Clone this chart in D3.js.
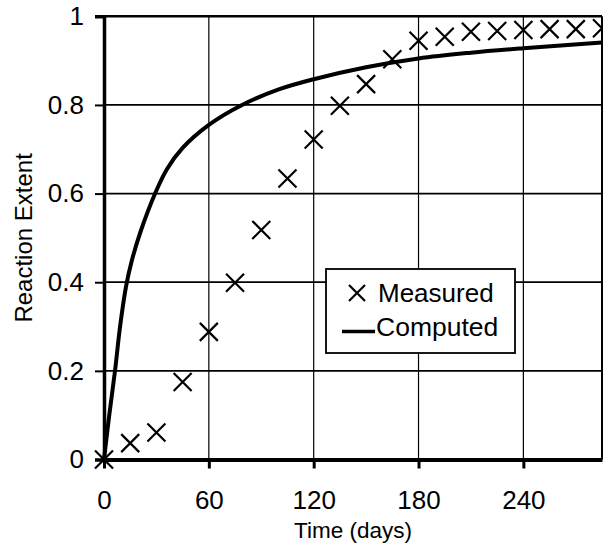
<!DOCTYPE html>
<html>
<head>
<meta charset="utf-8">
<script src="https://cdn.jsdelivr.net/npm/d3@7"></script>
<style>
  body { margin: 0; background: #fff; }
  svg { display: block; font-family: "Liberation Sans", Arial, sans-serif; }
</style>
</head>
<body>
<div id="chart"></div>
<script>
// Measured points (days, extent)
const measuredDays = [0, 15, 30, 45, 60, 75, 90, 105, 120, 135, 150, 165, 180, 195, 210, 225, 240, 255, 270, 285];
const measuredExtent = [0, 0.037, 0.061, 0.175, 0.288, 0.399, 0.518, 0.634, 0.722, 0.798, 0.847, 0.903, 0.945, 0.954, 0.965, 0.967, 0.969, 0.971, 0.971, 0.973];

// Computed curve
const computedDays = [0, 3, 6.3, 9.2, 12.6, 16, 21, 29, 36, 45, 60, 79, 100, 120, 150, 180, 210, 240, 285];
const computedExtent = [0, 0.1, 0.2, 0.3, 0.39, 0.45, 0.515, 0.598, 0.655, 0.703, 0.755, 0.8, 0.835, 0.858, 0.885, 0.905, 0.918, 0.928, 0.941];

const xTicks = [0, 60, 120, 180, 240];
const yTicks = [0, 0.2, 0.4, 0.6, 0.8, 1];

const width = 605, height = 550;
const margin = { top: 16.3, right: 3, bottom: 90.5, left: 104 };

const svg = d3.select("#chart")
    .append("svg")
    .attr("width", width)
    .attr("height", height);

const x = d3.scaleLinear()
    .domain([0, 285])
    .range([margin.left, width - margin.right]);

const y = d3.scaleLinear()
    .domain([0, 1])
    .range([height - margin.bottom, margin.top]);

// Gridlines
svg.append("g")
    .selectAll("line")
    .data(yTicks.filter(d => d > 0))
    .join("line")
    .attr("x1", x(0)).attr("x2", x(285))
    .attr("y1", d => y(d)).attr("y2", d => y(d))
    .attr("stroke", "#000").attr("stroke-width", d => d === 1 ? 2.4 : 1.8);

svg.append("g")
    .selectAll("line")
    .data(xTicks.filter(d => d > 0))
    .join("line")
    .attr("x1", d => x(d)).attr("x2", d => x(d))
    .attr("y1", y(0)).attr("y2", y(1))
    .attr("stroke", "#000").attr("stroke-width", 1.2);

// right border
svg.append("line")
    .attr("x1", x(285)).attr("x2", x(285))
    .attr("y1", y(0)).attr("y2", y(1))
    .attr("stroke", "#000").attr("stroke-width", 2);

// Axes
const yAxis = svg.append("g")
    .attr("transform", `translate(${x(0)},0)`)
    .call(d3.axisLeft(y).tickValues(yTicks).tickSize(9).tickPadding(11)
        .tickFormat(d => d3.format("")(+d.toFixed(1))));
yAxis.select(".domain").attr("stroke-width", 3.5);
yAxis.selectAll(".tick line").attr("stroke-width", 2);
yAxis.selectAll(".tick text").attr("font-size", 26).attr("fill", "#000");

const xAxis = svg.append("g")
    .attr("transform", `translate(0,${y(0)})`)
    .call(d3.axisBottom(x).tickValues(xTicks).tickSize(9).tickSizeOuter(0).tickPadding(22));
xAxis.select(".domain").attr("stroke-width", 4);
xAxis.selectAll(".tick line").attr("stroke-width", 3);
xAxis.selectAll(".tick text").attr("font-size", 26).attr("fill", "#000");

svg.append("clipPath").attr("id", "plotClip")
    .append("rect")
    .attr("x", x(0) - 12).attr("y", y(1) - 12)
    .attr("width", x(285) - x(0) + 13).attr("height", y(0) - y(1) + 24);

// Computed curve
const computed = computedDays.map((d, i) => [d, computedExtent[i]]);
svg.append("path")
    .datum(computed)
    .attr("clip-path", "url(#plotClip)")
    .attr("fill", "none")
    .attr("stroke", "#000")
    .attr("stroke-width", 4)
    .attr("stroke-linejoin", "round")
    .attr("d", d3.line().x(d => x(d[0])).y(d => y(d[1])).curve(d3.curveCatmullRom.alpha(0.5)));

// Measured crosses
const s = 9;
const measured = measuredDays.map((d, i) => [d, measuredExtent[i]]);
svg.append("g")
    .attr("clip-path", "url(#plotClip)")
    .selectAll("path")
    .data(measured)
    .join("path")
    .attr("transform", d => `translate(${x(d[0])},${y(d[1])})`)
    .attr("d", `M${-s},${-s}L${s},${s}M${-s},${s}L${s},${-s}`)
    .attr("stroke", "#000")
    .attr("stroke-width", 2.2)
    .attr("fill", "none");

// Legend
const lg = svg.append("g").attr("transform", "translate(326,269)");
lg.append("rect")
    .attr("width", 189).attr("height", 84)
    .attr("fill", "#fff").attr("stroke", "#000").attr("stroke-width", 1.8);
lg.append("path")
    .attr("d", `M${31 - 8},${24 - 8}L${31 + 8},${24 + 8}M${31 - 8},${24 + 8}L${31 + 8},${24 - 8}`)
    .attr("stroke", "#000").attr("stroke-width", 2.2);
lg.append("text").attr("x", 52).attr("y", 33).attr("font-size", 26).text("Measured");
lg.append("line")
    .attr("x1", 16).attr("x2", 49).attr("y1", 62.5).attr("y2", 62.5)
    .attr("stroke", "#000").attr("stroke-width", 3.5);
lg.append("text").attr("x", 50).attr("y", 67).attr("font-size", 26.5).text("Computed");

// Axis titles
svg.append("text")
    .attr("x", (x(0) + x(285)) / 2)
    .attr("y", 538)
    .attr("text-anchor", "middle")
    .attr("font-size", 22.5)
    .text("Time (days)");

svg.append("text")
    .attr("transform", `translate(32,${(y(0) + y(1)) / 2}) rotate(-90)`)
    .attr("text-anchor", "middle")
    .attr("font-size", 24)
    .text("Reaction Extent");
</script>
</body>
</html>
